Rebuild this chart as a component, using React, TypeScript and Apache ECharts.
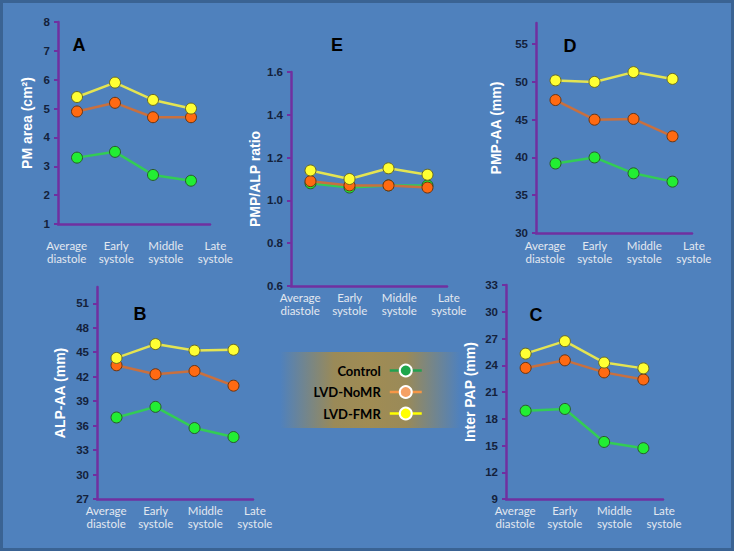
import React, { useEffect, useRef } from "react";
import * as echarts from "echarts";

const categories = ["Average\ndiastole", "Early\nsystole", "Middle\nsystole", "Late\nsystole"];
const seriesNames = ["Control", "LVD-NoMR", "LVD-FMR"];

// Panel A: PM area (cm²)
const aControl = [3.3, 3.5, 2.7, 2.5];
const aNoMR = [4.9, 5.2, 4.7, 4.7];
const aFMR = [5.4, 5.9, 5.3, 5.0];
const aTicks = [1, 2, 3, 4, 5, 6, 7, 8];

// Panel E: PMP/ALP ratio
const eControl = [1.08, 1.06, 1.07, 1.07];
const eNoMR = [1.09, 1.07, 1.07, 1.06];
const eFMR = [1.14, 1.1, 1.15, 1.12];
const eTicks = [0.6, 0.8, 1.0, 1.2, 1.4, 1.6];

// Panel D: PMP-AA (mm)
const dControl = [39.2, 40.0, 37.9, 36.8];
const dNoMR = [47.6, 45.0, 45.1, 42.8];
const dFMR = [50.2, 50.0, 51.3, 50.4];
const dTicks = [30, 35, 40, 45, 50, 55];

// Panel B: ALP-AA (mm)
const bControl = [37.0, 38.3, 35.7, 34.6];
const bNoMR = [43.4, 42.3, 42.7, 40.9];
const bFMR = [44.3, 46.0, 45.2, 45.3];
const bTicks = [27, 30, 33, 36, 39, 42, 45, 48, 51];

// Panel C: Inter PAP (mm)
const cControl = [18.9, 19.1, 15.4, 14.7];
const cNoMR = [23.7, 24.55, 23.2, 22.4];
const cFMR = [25.3, 26.7, 24.3, 23.65];
const cTicks = [9, 12, 15, 18, 21, 24, 27, 30, 33];

const PURPLE = "#7030a0";
const BG = "#4f81bd";

const lineColors = ["#33cc55", "#c8703f", "#e4e452"];
const markerFill = ["#22ee33", "#ff6a12", "#ffff33"];
const markerBorder = ["#2a5a2a", "#6a3410", "#6a6a20"];

const panels = [
  { letter: "A", name: "PM area (cm²)", data: [aControl, aNoMR, aFMR], ticks: aTicks, min: 1, max: 8, interval: 1, dec: 0,
    grid: { left: 58, top: 22, width: 152, height: 202 }, nameGap: 24, letterPos: [79, 45], labelMargin: 15 },
  { letter: "E", name: "PMP/ALP ratio", data: [eControl, eNoMR, eFMR], ticks: eTicks, min: 0.6, max: 1.6, interval: 0.2, dec: 1,
    grid: { left: 291, top: 72, width: 156, height: 214 }, nameGap: 29, letterPos: [337, 45], labelMargin: 5 },
  { letter: "D", name: "PMP-AA (mm)", data: [dControl, dNoMR, dFMR], ticks: dTicks, min: 30, max: 57.8, interval: 5, dec: 0,
    grid: { left: 536, top: 23, width: 156, height: 210 }, nameGap: 33, letterPos: [570, 46], labelMargin: 6 },
  { letter: "B", name: "ALP-AA (mm)", data: [bControl, bNoMR, bFMR], ticks: bTicks, min: 27, max: 53, interval: 3, dec: 0,
    grid: { left: 97, top: 287, width: 156, height: 212 }, nameGap: 30, letterPos: [140, 314], labelMargin: 5 },
  { letter: "C", name: "Inter PAP (mm)", data: [cControl, cNoMR, cFMR], ticks: cTicks, min: 9, max: 33, interval: 3, dec: 0,
    grid: { left: 506, top: 285, width: 157, height: 214 }, nameGap: 29, letterPos: [536, 315], labelMargin: 5 },
];

export default function App() {
  const ref = useRef<HTMLDivElement>(null);
  useEffect(() => {
    if (!ref.current) return;
    const chart = echarts.init(ref.current, null, { renderer: "svg" });
    const grids: any[] = [];
    const xAxes: any[] = [];
    const yAxes: any[] = [];
    const series: any[] = [];
    const graphics: any[] = [];
    const n = panels.length;

    panels.forEach((p, pi) => {
      grids.push({ ...p.grid, containLabel: false });
      xAxes.push({
        type: "category",
        gridIndex: pi,
        data: categories,
        boundaryGap: true,
        axisLine: { lineStyle: { color: PURPLE, width: 2.5 } },
        axisTick: { show: false },
        axisLabel: { show: false },
      });
      yAxes.push({
        type: "value",
        gridIndex: pi,
        min: p.min,
        max: p.max,
        interval: p.interval,
        name: p.name,
        nameLocation: "middle",
        nameGap: p.nameGap,
        nameRotate: 90,
        nameTextStyle: { color: "#ffffff", fontFamily: "Liberation Sans", fontWeight: "bold", fontSize: 14 },
        splitLine: { show: false },
        axisLine: { show: true, lineStyle: { color: PURPLE, width: 2.5 } },
        axisTick: { show: true, length: 4, customValues: p.ticks, lineStyle: { color: PURPLE, width: 2 } },
        axisLabel: {
          customValues: p.ticks,
          margin: 8,
          color: "#14213b",
          fontFamily: "Liberation Sans",
          fontWeight: "bold",
          fontSize: 11.5,
          formatter: (v: number) => v.toFixed(p.dec),
        },
      });
      p.data.forEach((vals, si) => {
        series.push({
          type: "line",
          name: seriesNames[si],
          xAxisIndex: pi,
          yAxisIndex: pi,
          data: vals,
          symbol: "circle",
          symbolSize: 11,
          lineStyle: { color: lineColors[si], width: 2.5 },
          itemStyle: { color: markerFill[si], borderColor: markerBorder[si], borderWidth: 1 },
          z: 2 + si,
        });
      });
      graphics.push({
        type: "text",
        x: p.letterPos[0],
        y: p.letterPos[1],
        style: {
          text: p.letter,
          fill: "#000000",
          font: "bold 18px 'Liberation Sans'",
          textAlign: "center",
          textVerticalAlign: "middle",
        },
      });
    });

    // label-only grids: category labels placed as in the reference (slightly wider spacing)
    panels.forEach((p, pi) => {
      const band = p.grid.width / 4;
      const firstCenter = p.grid.left + band / 2 - 10.4;
      const lband = 49.6;
      grids.push({
        left: firstCenter - lband / 2,
        width: lband * 4,
        top: p.grid.top,
        height: p.grid.height,
        containLabel: false,
      });
      xAxes.push({
        type: "category",
        gridIndex: n + pi,
        data: categories,
        boundaryGap: true,
        axisLine: { show: false },
        axisTick: { show: false },
        axisLabel: {
          interval: 0,
          margin: p.labelMargin,
          color: "#e3e8f0",
          fontFamily: "Lato",
          fontSize: 11.5,
          lineHeight: 13,
        },
      });
      yAxes.push({
        type: "value",
        gridIndex: n + pi,
        show: false,
        min: 0,
        max: 1,
      });
    });

    graphics.unshift({
      type: "rect",
      shape: { x: 280, y: 352, width: 180, height: 76 },
      style: {
        fill: new echarts.graphic.LinearGradient(0, 0, 1, 0, [
          { offset: 0, color: BG },
          { offset: 0.3, color: "#9a8a58" },
          { offset: 0.5, color: "#a08c54" },
          { offset: 0.7, color: "#9a8a58" },
          { offset: 1, color: BG },
        ]),
      },
      z: -1,
    });
    graphics.push({
      type: "rect",
      shape: { x: 1.5, y: 1.5, width: 731, height: 548 },
      style: { fill: "none", stroke: "#3a6393", lineWidth: 3 },
      z: 100,
    });

    const legendFill = ["#1ea64b", "#f5a064", "#ffff00"];
    const legendLine = ["#22a050", "#f79646", "#ffff00"];

    chart.setOption({
      animation: false,
      backgroundColor: BG,
      grid: grids,
      xAxis: xAxes,
      yAxis: yAxes,
      series,
      legend: {
        orient: "vertical",
        align: "right",
        right: 734 - 428,
        top: 358.5,
        itemWidth: 32,
        itemHeight: 15,
        itemGap: 7.5,
        selectedMode: false,
        textStyle: { color: "#000000", fontFamily: "Lato", fontWeight: "bold", fontSize: 13, padding: [0, 4, 0, 0] },
        data: seriesNames.map((nm, i) => ({
          name: nm,
          itemStyle: { color: legendFill[i], borderColor: "#ffffff", borderWidth: 2 },
          lineStyle: { color: legendLine[i], width: 2.5 },
        })),
      },
      graphic: graphics,
    });
    return () => chart.dispose();
  }, []);
  return (
    <div
      ref={ref}
      style={{ position: "absolute", left: 0, top: 0, width: 734, height: 551 }}
    />
  );
}
